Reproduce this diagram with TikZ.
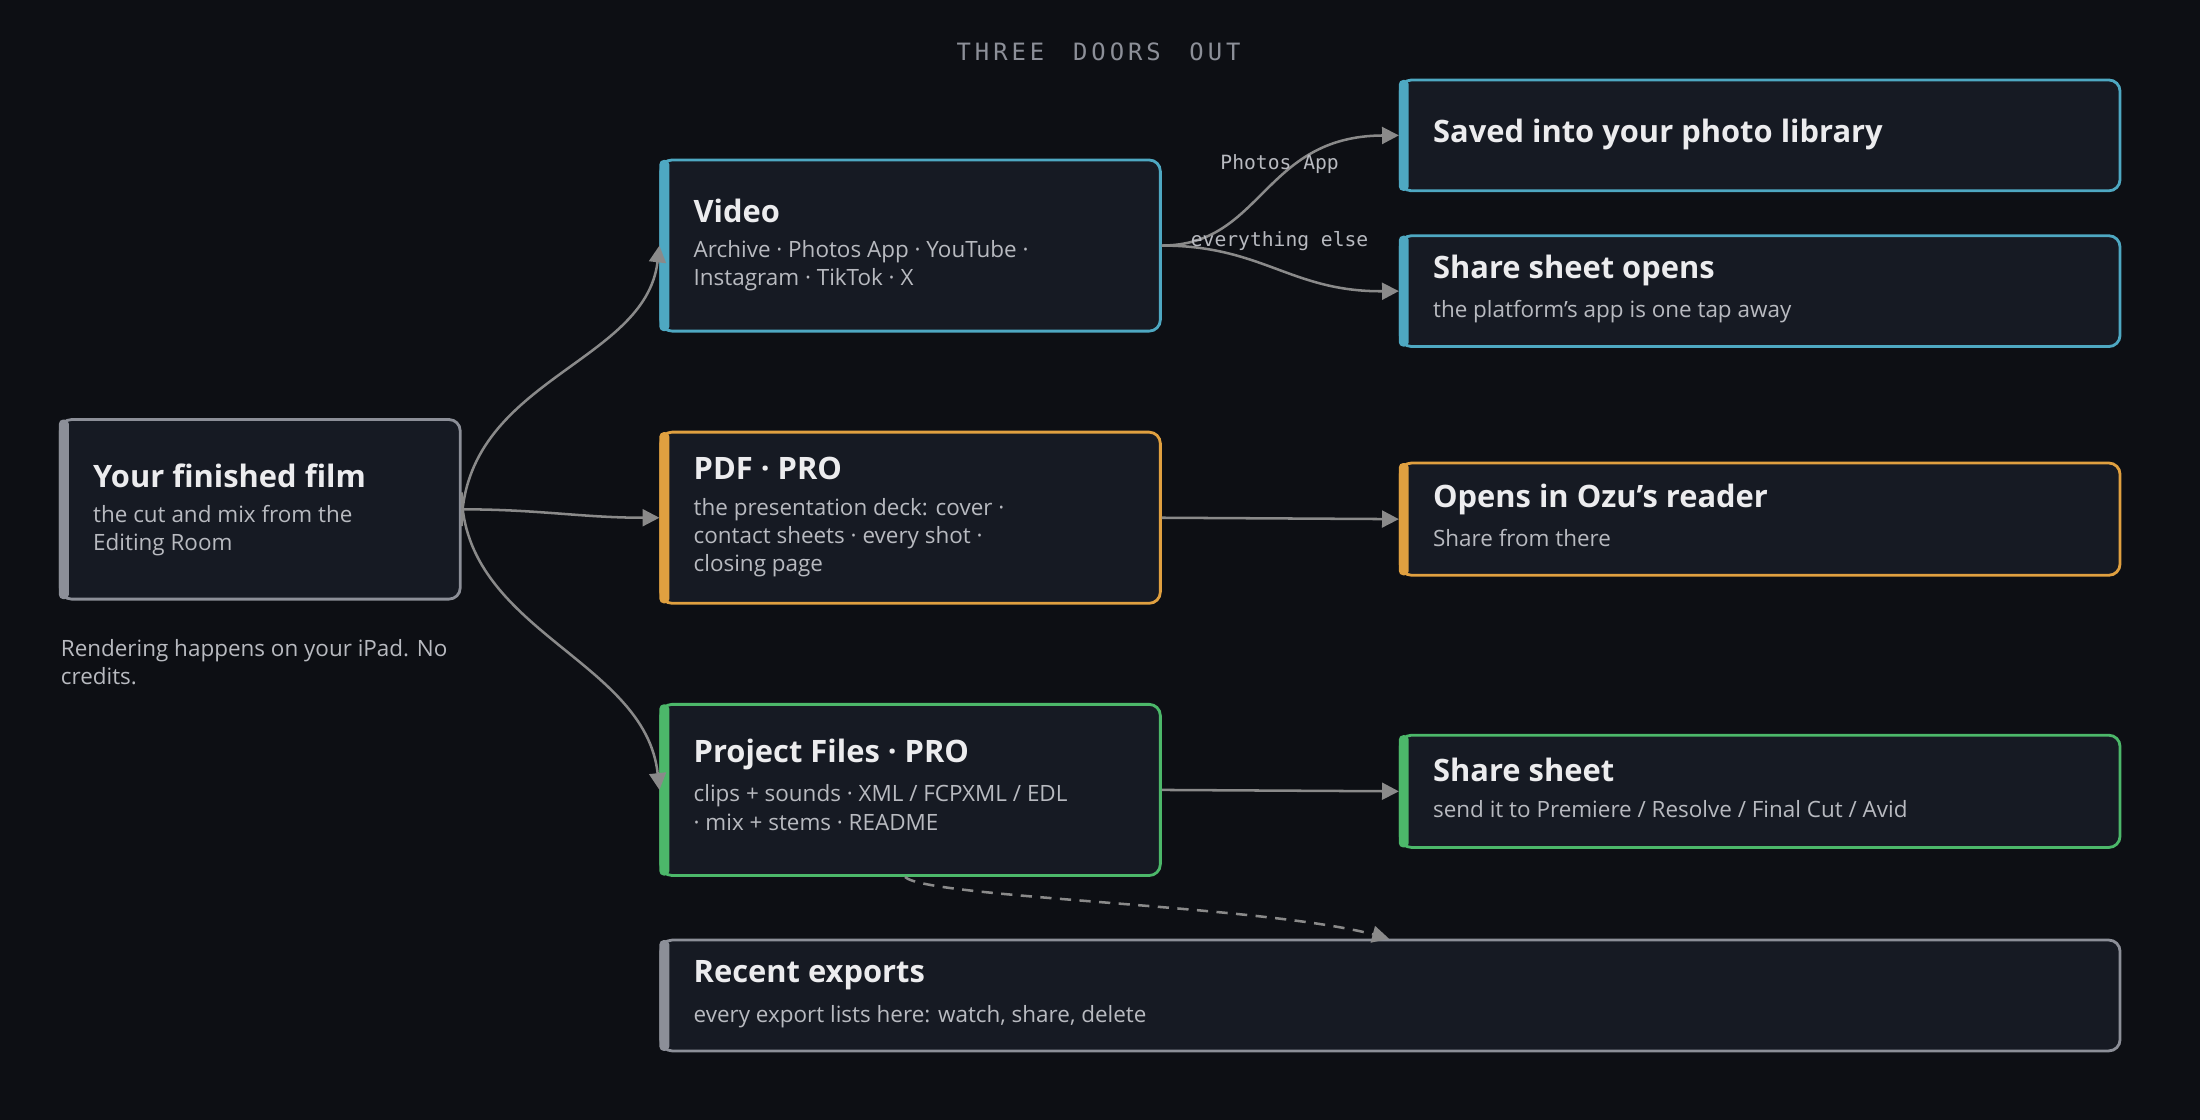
\documentclass[tikz,border=0pt]{standalone}
\usepackage{fontspec}
\setmainfont{Open Sans}
\newfontfamily\monof{DejaVu Sans Mono}
\usetikzlibrary{arrows.meta}
\definecolor{bg}{HTML}{0D0F14}
\definecolor{nf}{HTML}{161A23}
\definecolor{cg}{HTML}{8C8F98}
\definecolor{cb}{HTML}{4EA8C2}
\definecolor{co}{HTML}{E0A040}
\definecolor{cgr}{HTML}{4CB86A}
\definecolor{tt}{HTML}{ECECEE}
\definecolor{ts}{HTML}{B8BAC0}
\definecolor{ln}{HTML}{8A8A8A}
\tikzset{
 box/.style={draw, line width=1pt, fill=nf, rounded corners=4pt, inner sep=0pt},
 ttl/.style={anchor=west, text=tt, font=\bfseries\fontsize{11}{13}\selectfont, inner sep=0pt},
 sub/.style={anchor=north west, text=ts, font=\fontsize{8}{10}\selectfont, inner sep=0pt, align=left},
 lbl/.style={text=ts, font=\monof\fontsize{7}{8}\selectfont, inner sep=1pt},
 edge/.style={draw=ln, line width=0.9pt, -{Triangle[width=6pt,length=6pt]}},
}
\newcommand\bx[6]{%
 \node[box, draw=#6, minimum width={(#4-#2)*0.5pt}, minimum height={(#5-#3)*0.5pt}] (#1) at ({(#2+#4)/2},{(#3+#5)/2}) {};
 \fill[#6, rounded corners=1.5pt] ([yshift=-0.5pt]#1.north west) rectangle ([xshift=3.5pt,yshift=0.5pt]#1.south west);}
\begin{document}
\begin{tikzpicture}[x=0.5pt,y=-0.5pt]
\fill[bg] (0,0) rectangle (1568,798);
\useasboundingbox (0,0) rectangle (1568,798);
\node[text=cg, font=\monof\fontsize{8.5}{10}\selectfont] (title) at (783,37) {T\,H\,R\,E\,E\ \ D\,O\,O\,R\,S\ \ O\,U\,T};

\bx{film}{43}{299}{328}{427}{cg}
\node[ttl] (filmt) at (66,339) {Your finished film};
\node[sub] (films) at (66,360) {the cut and mix from the\\Editing Room};
\node[sub, text=ts] (note) at (43,455) {Rendering happens on your iPad. No\\credits.};

\bx{video}{471}{114}{827}{236}{cb}
\node[ttl] at (494,150) {Video};
\node[sub] at (494,171) {Archive · Photos App · YouTube ·\\Instagram · TikTok · X};

\bx{pdf}{471}{308}{827}{430}{co}
\node[ttl] at (494,334) {PDF · PRO};
\node[sub] at (494,355) {the presentation deck: cover ·\\contact sheets · every shot ·\\closing page};

\bx{proj}{471}{502}{827}{624}{cgr}
\node[ttl] at (494,538) {Project Files · PRO};
\node[sub] at (494,559) {clips + sounds · XML / FCPXML / EDL\\· mix + stems · README};

\bx{recent}{471}{670}{1511}{749}{cg}
\node[ttl] at (494,695) {Recent exports};
\node[sub] at (494,716) {every export lists here: watch, share, delete};

\bx{saved}{998}{57}{1511}{136}{cb}
\node[ttl] at (1021,96) {Saved into your photo library};

\bx{share}{998}{168}{1511}{247}{cb}
\node[ttl] at (1021,193) {Share sheet opens};
\node[sub] at (1021,214) {the platform's app is one tap away};

\bx{ozu}{998}{330}{1511}{410}{co}
\node[ttl] at (1021,356) {Opens in Ozu's reader};
\node[sub] at (1021,377) {Share from there};

\bx{ss}{998}{524}{1511}{604}{cgr}
\node[ttl] at (1021,549) {Share sheet};
\node[sub] at (1021,570) {send it to Premiere / Resolve / Final Cut / Avid};

\draw[edge] ([yshift=-6pt]film.east) .. controls (330,270) and (460,260) .. (video.west);
\draw[edge] (film.east) to[out=0,in=180] (pdf.west);
\draw[edge] ([yshift=6pt]film.east) .. controls (330,450) and (460,470) .. (proj.west);
\draw[edge] (video.east) .. controls (900,175) and (900,97) .. (saved.west);
\draw[edge] (video.east) .. controls (900,175) and (920,208) .. (share.west);
\node[lbl] (l1) at (912,117) {Photos App};
\node[lbl] (l2) at (912,172) {everything else};
\draw[edge] (pdf.east) -- (ozu.west);
\draw[edge] (proj.east) -- (ss.west);
\coordinate (rt) at (990,669);
\draw[edge, dashed, dash pattern=on 4pt off 3pt] ([xshift=-2pt]proj.south) .. controls (660,640) and (900,645) .. (rt);
\end{tikzpicture}
\end{document}
